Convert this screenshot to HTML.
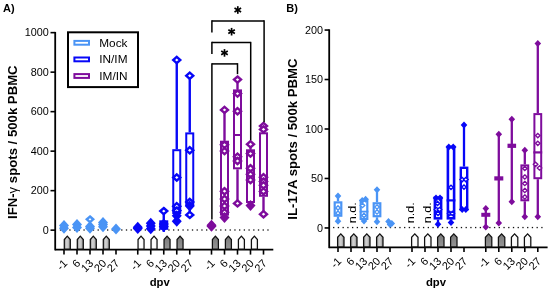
<!DOCTYPE html>
<html><head><meta charset="utf-8"><style>
html,body{margin:0;padding:0;background:#fff;width:550px;height:293px;overflow:hidden;font-family:"Liberation Sans",sans-serif;}
svg{display:block;filter:blur(0.3px);}
</style></head><body>
<svg width="550" height="293" viewBox="0 0 550 293" font-family="Liberation Sans, sans-serif"><defs>
<linearGradient id="gm" x1="0" y1="0" x2="1" y2="0"><stop offset="0" stop-color="#929292"/><stop offset="0.38" stop-color="#d2d2d2"/><stop offset="0.65" stop-color="#c4c4c4"/><stop offset="1" stop-color="#828282"/></linearGradient>
<linearGradient id="gg" x1="0" y1="0" x2="0" y2="1"><stop offset="0" stop-color="#7a7a7a"/><stop offset="1" stop-color="#959595"/></linearGradient>
<linearGradient id="gw" x1="0" y1="0" x2="1" y2="0"><stop offset="0" stop-color="#f4f4f4"/><stop offset="0.5" stop-color="#ffffff"/><stop offset="1" stop-color="#f0f0f0"/></linearGradient>
</defs><line x1="55.2" y1="31.9" x2="55.2" y2="250.4" stroke="#000" stroke-width="1.8" />
<line x1="55.2" y1="249.65" x2="273.3" y2="249.65" stroke="#000" stroke-width="1.7" />
<line x1="50.5" y1="230.15" x2="55.2" y2="230.15" stroke="#000" stroke-width="1.6" />
<text x="48.7" y="233.8" font-size="10.8" text-anchor="end" font-weight="normal" >0</text>
<line x1="50.5" y1="190.65" x2="55.2" y2="190.65" stroke="#000" stroke-width="1.6" />
<text x="48.7" y="194.3" font-size="10.8" text-anchor="end" font-weight="normal" >200</text>
<line x1="50.5" y1="151.15" x2="55.2" y2="151.15" stroke="#000" stroke-width="1.6" />
<text x="48.7" y="154.8" font-size="10.8" text-anchor="end" font-weight="normal" >400</text>
<line x1="50.5" y1="111.65" x2="55.2" y2="111.65" stroke="#000" stroke-width="1.6" />
<text x="48.7" y="115.3" font-size="10.8" text-anchor="end" font-weight="normal" >600</text>
<line x1="50.5" y1="72.15" x2="55.2" y2="72.15" stroke="#000" stroke-width="1.6" />
<text x="48.7" y="75.8" font-size="10.8" text-anchor="end" font-weight="normal" >800</text>
<line x1="50.5" y1="32.65" x2="55.2" y2="32.65" stroke="#000" stroke-width="1.6" />
<text x="48.7" y="36.3" font-size="10.8" text-anchor="end" font-weight="normal" >1000</text>
<line x1="64" y1="249.65" x2="64" y2="254.6" stroke="#000" stroke-width="1.6" />
<line x1="77" y1="249.65" x2="77" y2="254.6" stroke="#000" stroke-width="1.6" />
<line x1="90" y1="249.65" x2="90" y2="254.6" stroke="#000" stroke-width="1.6" />
<line x1="103" y1="249.65" x2="103" y2="254.6" stroke="#000" stroke-width="1.6" />
<line x1="116" y1="249.65" x2="116" y2="254.6" stroke="#000" stroke-width="1.6" />
<line x1="137.75" y1="249.65" x2="137.75" y2="254.6" stroke="#000" stroke-width="1.6" />
<line x1="150.75" y1="249.65" x2="150.75" y2="254.6" stroke="#000" stroke-width="1.6" />
<line x1="163.75" y1="249.65" x2="163.75" y2="254.6" stroke="#000" stroke-width="1.6" />
<line x1="176.75" y1="249.65" x2="176.75" y2="254.6" stroke="#000" stroke-width="1.6" />
<line x1="189.75" y1="249.65" x2="189.75" y2="254.6" stroke="#000" stroke-width="1.6" />
<line x1="211.5" y1="249.65" x2="211.5" y2="254.6" stroke="#000" stroke-width="1.6" />
<line x1="224.5" y1="249.65" x2="224.5" y2="254.6" stroke="#000" stroke-width="1.6" />
<line x1="237.5" y1="249.65" x2="237.5" y2="254.6" stroke="#000" stroke-width="1.6" />
<line x1="250.5" y1="249.65" x2="250.5" y2="254.6" stroke="#000" stroke-width="1.6" />
<line x1="263.5" y1="249.65" x2="263.5" y2="254.6" stroke="#000" stroke-width="1.6" />
<rect x="59.85" y="229.35" width="1.30" height="1.30" fill="#111" stroke="none" stroke-width="0"/>
<rect x="64.56" y="229.35" width="1.30" height="1.30" fill="#111" stroke="none" stroke-width="0"/>
<rect x="69.28" y="229.35" width="1.30" height="1.30" fill="#111" stroke="none" stroke-width="0"/>
<rect x="73.99" y="229.35" width="1.30" height="1.30" fill="#111" stroke="none" stroke-width="0"/>
<rect x="78.71" y="229.35" width="1.30" height="1.30" fill="#111" stroke="none" stroke-width="0"/>
<rect x="83.42" y="229.35" width="1.30" height="1.30" fill="#111" stroke="none" stroke-width="0"/>
<rect x="88.14" y="229.35" width="1.30" height="1.30" fill="#111" stroke="none" stroke-width="0"/>
<rect x="92.85" y="229.35" width="1.30" height="1.30" fill="#111" stroke="none" stroke-width="0"/>
<rect x="97.57" y="229.35" width="1.30" height="1.30" fill="#111" stroke="none" stroke-width="0"/>
<rect x="102.28" y="229.35" width="1.30" height="1.30" fill="#111" stroke="none" stroke-width="0"/>
<rect x="107.00" y="229.35" width="1.30" height="1.30" fill="#111" stroke="none" stroke-width="0"/>
<rect x="111.71" y="229.35" width="1.30" height="1.30" fill="#111" stroke="none" stroke-width="0"/>
<rect x="116.43" y="229.35" width="1.30" height="1.30" fill="#111" stroke="none" stroke-width="0"/>
<rect x="121.14" y="229.35" width="1.30" height="1.30" fill="#111" stroke="none" stroke-width="0"/>
<rect x="125.86" y="229.35" width="1.30" height="1.30" fill="#111" stroke="none" stroke-width="0"/>
<rect x="130.57" y="229.35" width="1.30" height="1.30" fill="#111" stroke="none" stroke-width="0"/>
<rect x="135.29" y="229.35" width="1.30" height="1.30" fill="#111" stroke="none" stroke-width="0"/>
<rect x="140.00" y="229.35" width="1.30" height="1.30" fill="#111" stroke="none" stroke-width="0"/>
<rect x="144.72" y="229.35" width="1.30" height="1.30" fill="#111" stroke="none" stroke-width="0"/>
<rect x="149.43" y="229.35" width="1.30" height="1.30" fill="#111" stroke="none" stroke-width="0"/>
<rect x="154.15" y="229.35" width="1.30" height="1.30" fill="#111" stroke="none" stroke-width="0"/>
<rect x="158.86" y="229.35" width="1.30" height="1.30" fill="#111" stroke="none" stroke-width="0"/>
<rect x="163.58" y="229.35" width="1.30" height="1.30" fill="#111" stroke="none" stroke-width="0"/>
<rect x="168.29" y="229.35" width="1.30" height="1.30" fill="#111" stroke="none" stroke-width="0"/>
<rect x="173.01" y="229.35" width="1.30" height="1.30" fill="#111" stroke="none" stroke-width="0"/>
<rect x="177.72" y="229.35" width="1.30" height="1.30" fill="#111" stroke="none" stroke-width="0"/>
<rect x="182.44" y="229.35" width="1.30" height="1.30" fill="#111" stroke="none" stroke-width="0"/>
<rect x="187.16" y="229.35" width="1.30" height="1.30" fill="#111" stroke="none" stroke-width="0"/>
<rect x="191.87" y="229.35" width="1.30" height="1.30" fill="#111" stroke="none" stroke-width="0"/>
<rect x="196.58" y="229.35" width="1.30" height="1.30" fill="#111" stroke="none" stroke-width="0"/>
<rect x="201.30" y="229.35" width="1.30" height="1.30" fill="#111" stroke="none" stroke-width="0"/>
<rect x="206.01" y="229.35" width="1.30" height="1.30" fill="#111" stroke="none" stroke-width="0"/>
<rect x="210.73" y="229.35" width="1.30" height="1.30" fill="#111" stroke="none" stroke-width="0"/>
<rect x="215.44" y="229.35" width="1.30" height="1.30" fill="#111" stroke="none" stroke-width="0"/>
<rect x="220.16" y="229.35" width="1.30" height="1.30" fill="#111" stroke="none" stroke-width="0"/>
<rect x="224.88" y="229.35" width="1.30" height="1.30" fill="#111" stroke="none" stroke-width="0"/>
<rect x="229.59" y="229.35" width="1.30" height="1.30" fill="#111" stroke="none" stroke-width="0"/>
<rect x="234.30" y="229.35" width="1.30" height="1.30" fill="#111" stroke="none" stroke-width="0"/>
<rect x="239.02" y="229.35" width="1.30" height="1.30" fill="#111" stroke="none" stroke-width="0"/>
<rect x="243.73" y="229.35" width="1.30" height="1.30" fill="#111" stroke="none" stroke-width="0"/>
<rect x="248.45" y="229.35" width="1.30" height="1.30" fill="#111" stroke="none" stroke-width="0"/>
<rect x="253.16" y="229.35" width="1.30" height="1.30" fill="#111" stroke="none" stroke-width="0"/>
<rect x="257.88" y="229.35" width="1.30" height="1.30" fill="#111" stroke="none" stroke-width="0"/>
<rect x="262.60" y="229.35" width="1.30" height="1.30" fill="#111" stroke="none" stroke-width="0"/>
<rect x="267.31" y="229.35" width="1.30" height="1.30" fill="#111" stroke="none" stroke-width="0"/>
<polygon points="64.30,249.05 64.30,239.60 67.30,236.10 70.30,239.60 70.30,249.05" fill="url(#gm)" stroke="#111" stroke-width="1.25" stroke-linejoin="miter"/>
<polygon points="77.30,249.05 77.30,239.60 80.30,236.10 83.30,239.60 83.30,249.05" fill="url(#gm)" stroke="#111" stroke-width="1.25" stroke-linejoin="miter"/>
<polygon points="90.30,249.05 90.30,239.60 93.30,236.10 96.30,239.60 96.30,249.05" fill="url(#gm)" stroke="#111" stroke-width="1.25" stroke-linejoin="miter"/>
<polygon points="103.30,249.05 103.30,239.60 106.30,236.10 109.30,239.60 109.30,249.05" fill="url(#gm)" stroke="#111" stroke-width="1.25" stroke-linejoin="miter"/>
<polygon points="138.05,249.05 138.05,239.60 141.05,236.10 144.05,239.60 144.05,249.05" fill="url(#gw)" stroke="#111" stroke-width="1.25" stroke-linejoin="miter"/>
<polygon points="151.05,249.05 151.05,239.60 154.05,236.10 157.05,239.60 157.05,249.05" fill="url(#gw)" stroke="#111" stroke-width="1.25" stroke-linejoin="miter"/>
<polygon points="164.05,249.05 164.05,239.60 167.05,236.10 170.05,239.60 170.05,249.05" fill="url(#gg)" stroke="#111" stroke-width="1.25" stroke-linejoin="miter"/>
<polygon points="177.05,249.05 177.05,239.60 180.05,236.10 183.05,239.60 183.05,249.05" fill="url(#gg)" stroke="#111" stroke-width="1.25" stroke-linejoin="miter"/>
<polygon points="212.40,249.05 212.40,239.60 215.40,236.10 218.40,239.60 218.40,249.05" fill="url(#gg)" stroke="#111" stroke-width="1.25" stroke-linejoin="miter"/>
<polygon points="225.40,249.05 225.40,239.60 228.40,236.10 231.40,239.60 231.40,249.05" fill="url(#gg)" stroke="#111" stroke-width="1.25" stroke-linejoin="miter"/>
<polygon points="238.40,249.05 238.40,239.60 241.40,236.10 244.40,239.60 244.40,249.05" fill="url(#gw)" stroke="#111" stroke-width="1.25" stroke-linejoin="miter"/>
<polygon points="251.40,249.05 251.40,239.60 254.40,236.10 257.40,239.60 257.40,249.05" fill="url(#gw)" stroke="#111" stroke-width="1.25" stroke-linejoin="miter"/>
<text x="68.1" y="264.0" font-size="11" text-anchor="end" font-weight="normal" transform="rotate(-45 68.1 264.0)">-1</text>
<text x="81.1" y="264.0" font-size="11" text-anchor="end" font-weight="normal" transform="rotate(-45 81.1 264.0)">6</text>
<text x="94.1" y="264.0" font-size="11" text-anchor="end" font-weight="normal" transform="rotate(-45 94.1 264.0)">13</text>
<text x="107.1" y="264.0" font-size="11" text-anchor="end" font-weight="normal" transform="rotate(-45 107.1 264.0)">20</text>
<text x="120.1" y="264.0" font-size="11" text-anchor="end" font-weight="normal" transform="rotate(-45 120.1 264.0)">27</text>
<text x="141.85" y="264.0" font-size="11" text-anchor="end" font-weight="normal" transform="rotate(-45 141.85 264.0)">-1</text>
<text x="154.85" y="264.0" font-size="11" text-anchor="end" font-weight="normal" transform="rotate(-45 154.85 264.0)">6</text>
<text x="167.85" y="264.0" font-size="11" text-anchor="end" font-weight="normal" transform="rotate(-45 167.85 264.0)">13</text>
<text x="180.85" y="264.0" font-size="11" text-anchor="end" font-weight="normal" transform="rotate(-45 180.85 264.0)">20</text>
<text x="193.85" y="264.0" font-size="11" text-anchor="end" font-weight="normal" transform="rotate(-45 193.85 264.0)">27</text>
<text x="215.6" y="264.0" font-size="11" text-anchor="end" font-weight="normal" transform="rotate(-45 215.6 264.0)">-1</text>
<text x="228.6" y="264.0" font-size="11" text-anchor="end" font-weight="normal" transform="rotate(-45 228.6 264.0)">6</text>
<text x="241.6" y="264.0" font-size="11" text-anchor="end" font-weight="normal" transform="rotate(-45 241.6 264.0)">13</text>
<text x="254.6" y="264.0" font-size="11" text-anchor="end" font-weight="normal" transform="rotate(-45 254.6 264.0)">20</text>
<text x="267.6" y="264.0" font-size="11" text-anchor="end" font-weight="normal" transform="rotate(-45 267.6 264.0)">27</text>
<text x="159.7" y="286" font-size="11.3" text-anchor="middle" font-weight="bold" >dpv</text>
<text x="0" y="0" font-size="13" font-weight="bold" text-anchor="middle" textLength="153.6" lengthAdjust="spacingAndGlyphs" transform="translate(17.1 142.2) rotate(-90)">IFN-<tspan font-weight="normal">γ</tspan> spots / 500k PBMC</text>
<text x="3" y="12.3" font-size="11" text-anchor="start" font-weight="bold" >A)</text>
<rect x="68.00" y="32.30" width="70.00" height="54.80" fill="#fff" stroke="#000" stroke-width="2"/>
<rect x="74.40" y="40.90" width="14.60" height="3.80" fill="#fff" stroke="#4a94f5" stroke-width="2"/>
<text x="99.3" y="46.7" font-size="11.8" text-anchor="start" font-weight="normal" >Mock</text>
<rect x="74.40" y="57.50" width="14.60" height="3.80" fill="#fff" stroke="#0707f7" stroke-width="2"/>
<text x="99.3" y="63.3" font-size="11.8" text-anchor="start" font-weight="normal" >IN/IM</text>
<rect x="74.40" y="74.10" width="14.60" height="3.80" fill="#fff" stroke="#7e0c9c" stroke-width="2"/>
<text x="99.3" y="79.9" font-size="11.8" text-anchor="start" font-weight="normal" >IM/IN</text>
<polygon points="64.00,220.00 69.00,225.50 64.00,231.00 59.00,225.50" fill="#4a94f5" stroke="none" stroke-width="0" />
<polygon points="64.00,222.80 69.00,228.30 64.00,233.80 59.00,228.30" fill="#4a94f5" stroke="none" stroke-width="0" />
<polygon points="77.00,219.00 82.00,224.50 77.00,230.00 72.00,224.50" fill="#4a94f5" stroke="none" stroke-width="0" />
<polygon points="77.00,222.00 82.00,227.50 77.00,233.00 72.00,227.50" fill="#4a94f5" stroke="none" stroke-width="0" />
<polygon points="90.00,216.50 93.20,219.30 90.00,222.10 86.80,219.30" fill="#fff" stroke="#4a94f5" stroke-width="2.4" stroke-linejoin="miter"/>
<polygon points="90.00,221.00 95.00,226.50 90.00,232.00 85.00,226.50" fill="#4a94f5" stroke="none" stroke-width="0" />
<polygon points="90.00,222.70 95.00,228.20 90.00,233.70 85.00,228.20" fill="#4a94f5" stroke="none" stroke-width="0" />
<polygon points="103.00,217.00 108.00,222.50 103.00,228.00 98.00,222.50" fill="#4a94f5" stroke="none" stroke-width="0" />
<polygon points="103.00,219.00 108.00,224.50 103.00,230.00 98.00,224.50" fill="#4a94f5" stroke="none" stroke-width="0" />
<polygon points="103.00,221.30 108.00,226.80 103.00,232.30 98.00,226.80" fill="#4a94f5" stroke="none" stroke-width="0" />
<polygon points="116.00,223.50 121.00,229.00 116.00,234.50 111.00,229.00" fill="#4a94f5" stroke="none" stroke-width="0" />
<polygon points="137.75,221.70 142.75,227.20 137.75,232.70 132.75,227.20" fill="#0707f7" stroke="none" stroke-width="0" />
<polygon points="137.75,222.90 142.75,228.40 137.75,233.90 132.75,228.40" fill="#0707f7" stroke="none" stroke-width="0" />
<polygon points="150.75,217.80 155.75,223.30 150.75,228.80 145.75,223.30" fill="#0707f7" stroke="none" stroke-width="0" />
<polygon points="150.75,220.50 155.75,226.00 150.75,231.50 145.75,226.00" fill="#0707f7" stroke="none" stroke-width="0" />
<polygon points="150.75,223.30 155.75,228.80 150.75,234.30 145.75,228.80" fill="#0707f7" stroke="none" stroke-width="0" />
<line x1="163.75" y1="211.1" x2="163.75" y2="220.3" stroke="#0707f7" stroke-width="2.4" />
<line x1="163.75" y1="229.8" x2="163.75" y2="231.9" stroke="#0707f7" stroke-width="2.4" />
<rect x="160.25" y="221.30" width="7.00" height="7.50" fill="#fff" stroke="#0707f7" stroke-width="2"/>
<polygon points="163.75,208.00 167.25,211.10 163.75,214.20 160.25,211.10" fill="#fff" stroke="#0707f7" stroke-width="2.4" stroke-linejoin="miter"/>
<polygon points="163.75,218.50 168.75,224.00 163.75,229.50 158.75,224.00" fill="#0707f7" stroke="none" stroke-width="0" />
<polygon points="163.75,221.00 168.75,226.50 163.75,232.00 158.75,226.50" fill="#0707f7" stroke="none" stroke-width="0" />
<line x1="176.75" y1="60" x2="176.75" y2="149.2" stroke="#0707f7" stroke-width="2.4" />
<line x1="176.75" y1="214" x2="176.75" y2="221.5" stroke="#0707f7" stroke-width="2.4" />
<rect x="173.25" y="150.20" width="7.00" height="62.80" fill="#fff" stroke="#0707f7" stroke-width="2"/>
<polygon points="176.75,56.90 180.25,60.00 176.75,63.10 173.25,60.00" fill="#fff" stroke="#0707f7" stroke-width="2.4" stroke-linejoin="miter"/>
<polygon points="176.75,174.40 180.25,177.50 176.75,180.60 173.25,177.50" fill="#fff" stroke="#0707f7" stroke-width="2.4" stroke-linejoin="miter"/>
<polygon points="176.75,203.20 180.25,206.30 176.75,209.40 173.25,206.30" fill="#fff" stroke="#0707f7" stroke-width="2.4" stroke-linejoin="miter"/>
<polygon points="176.75,207.50 180.25,210.60 176.75,213.70 173.25,210.60" fill="#fff" stroke="#0707f7" stroke-width="2.4" stroke-linejoin="miter"/>
<polygon points="176.75,210.20 181.75,215.70 176.75,221.20 171.75,215.70" fill="#0707f7" stroke="none" stroke-width="0" />
<polygon points="176.75,215.80 181.75,221.30 176.75,226.80 171.75,221.30" fill="#0707f7" stroke="none" stroke-width="0" />
<line x1="189.75" y1="75.7" x2="189.75" y2="132.4" stroke="#0707f7" stroke-width="2.4" />
<line x1="189.75" y1="206" x2="189.75" y2="214.9" stroke="#0707f7" stroke-width="2.4" />
<rect x="186.25" y="133.40" width="7.00" height="71.60" fill="#fff" stroke="#0707f7" stroke-width="2"/>
<polygon points="189.75,72.60 193.25,75.70 189.75,78.80 186.25,75.70" fill="#fff" stroke="#0707f7" stroke-width="2.4" stroke-linejoin="miter"/>
<polygon points="189.75,147.20 193.25,150.30 189.75,153.40 186.25,150.30" fill="#fff" stroke="#0707f7" stroke-width="2.4" stroke-linejoin="miter"/>
<polygon points="189.75,198.90 193.25,202.00 189.75,205.10 186.25,202.00" fill="#fff" stroke="#0707f7" stroke-width="2.4" stroke-linejoin="miter"/>
<polygon points="189.75,200.50 194.75,206.00 189.75,211.50 184.75,206.00" fill="#0707f7" stroke="none" stroke-width="0" />
<polygon points="189.75,211.80 193.25,214.90 189.75,218.00 186.25,214.90" fill="#fff" stroke="#0707f7" stroke-width="2.4" stroke-linejoin="miter"/>
<polygon points="211.50,219.70 216.50,225.20 211.50,230.70 206.50,225.20" fill="#7e0c9c" stroke="none" stroke-width="0" />
<polygon points="211.50,220.70 216.50,226.20 211.50,231.70 206.50,226.20" fill="#7e0c9c" stroke="none" stroke-width="0" />
<line x1="224.5" y1="109.9" x2="224.5" y2="140.7" stroke="#7e0c9c" stroke-width="2.4" />
<line x1="224.5" y1="215.6" x2="224.5" y2="217.5" stroke="#7e0c9c" stroke-width="2.4" />
<rect x="221.00" y="141.70" width="7.00" height="72.90" fill="#fff" stroke="#7e0c9c" stroke-width="2"/>
<polygon points="224.50,106.80 228.00,109.90 224.50,113.00 221.00,109.90" fill="#fff" stroke="#7e0c9c" stroke-width="2.4" stroke-linejoin="miter"/>
<polygon points="224.50,141.70 228.00,144.80 224.50,147.90 221.00,144.80" fill="#fff" stroke="#7e0c9c" stroke-width="2.4" stroke-linejoin="miter"/>
<polygon points="224.50,148.00 228.00,151.10 224.50,154.20 221.00,151.10" fill="#fff" stroke="#7e0c9c" stroke-width="2.4" stroke-linejoin="miter"/>
<polygon points="224.50,188.10 228.00,191.20 224.50,194.30 221.00,191.20" fill="#fff" stroke="#7e0c9c" stroke-width="2.4" stroke-linejoin="miter"/>
<polygon points="224.50,195.90 228.00,199.00 224.50,202.10 221.00,199.00" fill="#fff" stroke="#7e0c9c" stroke-width="2.4" stroke-linejoin="miter"/>
<polygon points="224.50,202.90 228.00,206.00 224.50,209.10 221.00,206.00" fill="#fff" stroke="#7e0c9c" stroke-width="2.4" stroke-linejoin="miter"/>
<polygon points="224.50,209.20 228.00,212.30 224.50,215.40 221.00,212.30" fill="#fff" stroke="#7e0c9c" stroke-width="2.4" stroke-linejoin="miter"/>
<polygon points="224.50,212.00 229.50,217.50 224.50,223.00 219.50,217.50" fill="#7e0c9c" stroke="none" stroke-width="0" />
<line x1="237.5" y1="79.6" x2="237.5" y2="89.4" stroke="#7e0c9c" stroke-width="2.4" />
<line x1="237.5" y1="169.3" x2="237.5" y2="203.4" stroke="#7e0c9c" stroke-width="2.4" />
<rect x="234.00" y="90.40" width="7.00" height="77.90" fill="#fff" stroke="#7e0c9c" stroke-width="2"/>
<line x1="233" y1="135" x2="242" y2="135" stroke="#7e0c9c" stroke-width="2" />
<polygon points="237.50,76.50 241.00,79.60 237.50,82.70 234.00,79.60" fill="#fff" stroke="#7e0c9c" stroke-width="2.4" stroke-linejoin="miter"/>
<polygon points="237.50,90.50 241.00,93.60 237.50,96.70 234.00,93.60" fill="#fff" stroke="#7e0c9c" stroke-width="2.4" stroke-linejoin="miter"/>
<polygon points="237.50,108.10 241.00,111.20 237.50,114.30 234.00,111.20" fill="#fff" stroke="#7e0c9c" stroke-width="2.4" stroke-linejoin="miter"/>
<polygon points="237.50,153.60 241.00,156.70 237.50,159.80 234.00,156.70" fill="#fff" stroke="#7e0c9c" stroke-width="2.4" stroke-linejoin="miter"/>
<polygon points="237.50,157.90 241.00,161.00 237.50,164.10 234.00,161.00" fill="#fff" stroke="#7e0c9c" stroke-width="2.4" stroke-linejoin="miter"/>
<polygon points="237.50,200.30 241.00,203.40 237.50,206.50 234.00,203.40" fill="#fff" stroke="#7e0c9c" stroke-width="2.4" stroke-linejoin="miter"/>
<line x1="250.5" y1="144.3" x2="250.5" y2="149.3" stroke="#7e0c9c" stroke-width="2.4" />
<line x1="250.5" y1="203" x2="250.5" y2="205.5" stroke="#7e0c9c" stroke-width="2.4" />
<rect x="247.00" y="150.30" width="7.00" height="51.70" fill="#fff" stroke="#7e0c9c" stroke-width="2"/>
<polygon points="250.50,141.20 254.00,144.30 250.50,147.40 247.00,144.30" fill="#fff" stroke="#7e0c9c" stroke-width="2.4" stroke-linejoin="miter"/>
<polygon points="250.50,150.50 254.00,153.60 250.50,156.70 247.00,153.60" fill="#fff" stroke="#7e0c9c" stroke-width="2.4" stroke-linejoin="miter"/>
<polygon points="250.50,165.20 254.00,168.30 250.50,171.40 247.00,168.30" fill="#fff" stroke="#7e0c9c" stroke-width="2.4" stroke-linejoin="miter"/>
<polygon points="250.50,171.20 254.00,174.30 250.50,177.40 247.00,174.30" fill="#fff" stroke="#7e0c9c" stroke-width="2.4" stroke-linejoin="miter"/>
<polygon points="250.50,176.90 254.00,180.00 250.50,183.10 247.00,180.00" fill="#fff" stroke="#7e0c9c" stroke-width="2.4" stroke-linejoin="miter"/>
<polygon points="250.50,200.00 255.50,205.50 250.50,211.00 245.50,205.50" fill="#7e0c9c" stroke="none" stroke-width="0" />
<line x1="263.5" y1="126" x2="263.5" y2="132.3" stroke="#7e0c9c" stroke-width="2.4" />
<line x1="263.5" y1="196.8" x2="263.5" y2="214.2" stroke="#7e0c9c" stroke-width="2.4" />
<rect x="260.00" y="133.30" width="7.00" height="62.50" fill="#fff" stroke="#7e0c9c" stroke-width="2"/>
<polygon points="263.50,122.90 267.00,126.00 263.50,129.10 260.00,126.00" fill="#fff" stroke="#7e0c9c" stroke-width="2.4" stroke-linejoin="miter"/>
<polygon points="263.50,126.30 267.00,129.40 263.50,132.50 260.00,129.40" fill="#fff" stroke="#7e0c9c" stroke-width="2.4" stroke-linejoin="miter"/>
<polygon points="263.50,174.20 267.00,177.30 263.50,180.40 260.00,177.30" fill="#fff" stroke="#7e0c9c" stroke-width="2.4" stroke-linejoin="miter"/>
<polygon points="263.50,178.50 267.00,181.60 263.50,184.70 260.00,181.60" fill="#fff" stroke="#7e0c9c" stroke-width="2.4" stroke-linejoin="miter"/>
<polygon points="263.50,182.20 267.00,185.30 263.50,188.40 260.00,185.30" fill="#fff" stroke="#7e0c9c" stroke-width="2.4" stroke-linejoin="miter"/>
<polygon points="263.50,188.30 267.00,191.40 263.50,194.50 260.00,191.40" fill="#fff" stroke="#7e0c9c" stroke-width="2.4" stroke-linejoin="miter"/>
<polygon points="263.50,211.10 267.00,214.20 263.50,217.30 260.00,214.20" fill="#fff" stroke="#7e0c9c" stroke-width="2.4" stroke-linejoin="miter"/>
<line x1="211.9" y1="20.9" x2="264.1" y2="20.9" stroke="#000" stroke-width="1.5" />
<line x1="211.9" y1="20.15" x2="211.9" y2="32.6" stroke="#000" stroke-width="1.5" />
<line x1="264.1" y1="20.15" x2="264.1" y2="122.3" stroke="#000" stroke-width="1.5" />
<line x1="211.9" y1="42.6" x2="250.7" y2="42.6" stroke="#000" stroke-width="1.5" />
<line x1="211.9" y1="41.85" x2="211.9" y2="53.9" stroke="#000" stroke-width="1.5" />
<line x1="250.7" y1="41.85" x2="250.7" y2="140.2" stroke="#000" stroke-width="1.5" />
<line x1="211.9" y1="63.9" x2="237.5" y2="63.9" stroke="#000" stroke-width="1.5" />
<line x1="211.9" y1="63.15" x2="211.9" y2="219.5" stroke="#000" stroke-width="1.5" />
<line x1="237.5" y1="63.15" x2="237.5" y2="74.2" stroke="#000" stroke-width="1.5" />
<line x1="237.8" y1="6.2" x2="237.8" y2="13.8" stroke="#000" stroke-width="1.7" stroke-linecap="butt"/>
<line x1="234.51" y1="8.1" x2="241.09" y2="11.9" stroke="#000" stroke-width="1.7" stroke-linecap="butt"/>
<line x1="241.09" y1="8.1" x2="234.51" y2="11.9" stroke="#000" stroke-width="1.7" stroke-linecap="butt"/>
<line x1="231.6" y1="27.9" x2="231.6" y2="35.5" stroke="#000" stroke-width="1.7" stroke-linecap="butt"/>
<line x1="228.31" y1="29.8" x2="234.89" y2="33.6" stroke="#000" stroke-width="1.7" stroke-linecap="butt"/>
<line x1="234.89" y1="29.8" x2="228.31" y2="33.6" stroke="#000" stroke-width="1.7" stroke-linecap="butt"/>
<line x1="224.5" y1="49.1" x2="224.5" y2="56.7" stroke="#000" stroke-width="1.7" stroke-linecap="butt"/>
<line x1="221.21" y1="51" x2="227.79" y2="54.8" stroke="#000" stroke-width="1.7" stroke-linecap="butt"/>
<line x1="227.79" y1="51" x2="221.21" y2="54.8" stroke="#000" stroke-width="1.7" stroke-linecap="butt"/>
<line x1="329.2" y1="29.3" x2="329.2" y2="248.15" stroke="#000" stroke-width="1.8" />
<line x1="329.2" y1="247.4" x2="547.6" y2="247.4" stroke="#000" stroke-width="1.7" />
<line x1="324.6" y1="227.95" x2="329.2" y2="227.95" stroke="#000" stroke-width="1.6" />
<text x="323.0" y="231.75" font-size="10.8" text-anchor="end" font-weight="normal" >0</text>
<line x1="324.6" y1="178.47" x2="329.2" y2="178.47" stroke="#000" stroke-width="1.6" />
<text x="323.0" y="182.28" font-size="10.8" text-anchor="end" font-weight="normal" >50</text>
<line x1="324.6" y1="129" x2="329.2" y2="129" stroke="#000" stroke-width="1.6" />
<text x="323.0" y="132.8" font-size="10.8" text-anchor="end" font-weight="normal" >100</text>
<line x1="324.6" y1="79.52" x2="329.2" y2="79.52" stroke="#000" stroke-width="1.6" />
<text x="323.0" y="83.32" font-size="10.8" text-anchor="end" font-weight="normal" >150</text>
<line x1="324.6" y1="30.05" x2="329.2" y2="30.05" stroke="#000" stroke-width="1.6" />
<text x="323.0" y="33.85" font-size="10.8" text-anchor="end" font-weight="normal" >200</text>
<line x1="338" y1="247.4" x2="338" y2="252" stroke="#000" stroke-width="1.6" />
<line x1="351" y1="247.4" x2="351" y2="252" stroke="#000" stroke-width="1.6" />
<line x1="364" y1="247.4" x2="364" y2="252" stroke="#000" stroke-width="1.6" />
<line x1="377" y1="247.4" x2="377" y2="252" stroke="#000" stroke-width="1.6" />
<line x1="390" y1="247.4" x2="390" y2="252" stroke="#000" stroke-width="1.6" />
<line x1="412" y1="247.4" x2="412" y2="252" stroke="#000" stroke-width="1.6" />
<line x1="425" y1="247.4" x2="425" y2="252" stroke="#000" stroke-width="1.6" />
<line x1="438" y1="247.4" x2="438" y2="252" stroke="#000" stroke-width="1.6" />
<line x1="451" y1="247.4" x2="451" y2="252" stroke="#000" stroke-width="1.6" />
<line x1="464" y1="247.4" x2="464" y2="252" stroke="#000" stroke-width="1.6" />
<line x1="485.8" y1="247.4" x2="485.8" y2="252" stroke="#000" stroke-width="1.6" />
<line x1="498.8" y1="247.4" x2="498.8" y2="252" stroke="#000" stroke-width="1.6" />
<line x1="511.8" y1="247.4" x2="511.8" y2="252" stroke="#000" stroke-width="1.6" />
<line x1="524.8" y1="247.4" x2="524.8" y2="252" stroke="#000" stroke-width="1.6" />
<line x1="537.8" y1="247.4" x2="537.8" y2="252" stroke="#000" stroke-width="1.6" />
<rect x="333.05" y="226.90" width="1.30" height="1.30" fill="#111" stroke="none" stroke-width="0"/>
<rect x="337.78" y="226.90" width="1.30" height="1.30" fill="#111" stroke="none" stroke-width="0"/>
<rect x="342.51" y="226.90" width="1.30" height="1.30" fill="#111" stroke="none" stroke-width="0"/>
<rect x="347.25" y="226.90" width="1.30" height="1.30" fill="#111" stroke="none" stroke-width="0"/>
<rect x="351.98" y="226.90" width="1.30" height="1.30" fill="#111" stroke="none" stroke-width="0"/>
<rect x="356.71" y="226.90" width="1.30" height="1.30" fill="#111" stroke="none" stroke-width="0"/>
<rect x="361.44" y="226.90" width="1.30" height="1.30" fill="#111" stroke="none" stroke-width="0"/>
<rect x="366.17" y="226.90" width="1.30" height="1.30" fill="#111" stroke="none" stroke-width="0"/>
<rect x="370.91" y="226.90" width="1.30" height="1.30" fill="#111" stroke="none" stroke-width="0"/>
<rect x="375.64" y="226.90" width="1.30" height="1.30" fill="#111" stroke="none" stroke-width="0"/>
<rect x="380.37" y="226.90" width="1.30" height="1.30" fill="#111" stroke="none" stroke-width="0"/>
<rect x="385.10" y="226.90" width="1.30" height="1.30" fill="#111" stroke="none" stroke-width="0"/>
<rect x="389.83" y="226.90" width="1.30" height="1.30" fill="#111" stroke="none" stroke-width="0"/>
<rect x="394.57" y="226.90" width="1.30" height="1.30" fill="#111" stroke="none" stroke-width="0"/>
<rect x="399.30" y="226.90" width="1.30" height="1.30" fill="#111" stroke="none" stroke-width="0"/>
<rect x="404.03" y="226.90" width="1.30" height="1.30" fill="#111" stroke="none" stroke-width="0"/>
<rect x="408.76" y="226.90" width="1.30" height="1.30" fill="#111" stroke="none" stroke-width="0"/>
<rect x="413.49" y="226.90" width="1.30" height="1.30" fill="#111" stroke="none" stroke-width="0"/>
<rect x="418.23" y="226.90" width="1.30" height="1.30" fill="#111" stroke="none" stroke-width="0"/>
<rect x="422.96" y="226.90" width="1.30" height="1.30" fill="#111" stroke="none" stroke-width="0"/>
<rect x="427.69" y="226.90" width="1.30" height="1.30" fill="#111" stroke="none" stroke-width="0"/>
<rect x="432.42" y="226.90" width="1.30" height="1.30" fill="#111" stroke="none" stroke-width="0"/>
<rect x="437.15" y="226.90" width="1.30" height="1.30" fill="#111" stroke="none" stroke-width="0"/>
<rect x="441.89" y="226.90" width="1.30" height="1.30" fill="#111" stroke="none" stroke-width="0"/>
<rect x="446.62" y="226.90" width="1.30" height="1.30" fill="#111" stroke="none" stroke-width="0"/>
<rect x="451.35" y="226.90" width="1.30" height="1.30" fill="#111" stroke="none" stroke-width="0"/>
<rect x="456.08" y="226.90" width="1.30" height="1.30" fill="#111" stroke="none" stroke-width="0"/>
<rect x="460.81" y="226.90" width="1.30" height="1.30" fill="#111" stroke="none" stroke-width="0"/>
<rect x="465.55" y="226.90" width="1.30" height="1.30" fill="#111" stroke="none" stroke-width="0"/>
<rect x="470.28" y="226.90" width="1.30" height="1.30" fill="#111" stroke="none" stroke-width="0"/>
<rect x="475.01" y="226.90" width="1.30" height="1.30" fill="#111" stroke="none" stroke-width="0"/>
<rect x="479.74" y="226.90" width="1.30" height="1.30" fill="#111" stroke="none" stroke-width="0"/>
<rect x="484.47" y="226.90" width="1.30" height="1.30" fill="#111" stroke="none" stroke-width="0"/>
<rect x="489.21" y="226.90" width="1.30" height="1.30" fill="#111" stroke="none" stroke-width="0"/>
<rect x="493.94" y="226.90" width="1.30" height="1.30" fill="#111" stroke="none" stroke-width="0"/>
<rect x="498.67" y="226.90" width="1.30" height="1.30" fill="#111" stroke="none" stroke-width="0"/>
<rect x="503.40" y="226.90" width="1.30" height="1.30" fill="#111" stroke="none" stroke-width="0"/>
<rect x="508.13" y="226.90" width="1.30" height="1.30" fill="#111" stroke="none" stroke-width="0"/>
<rect x="512.87" y="226.90" width="1.30" height="1.30" fill="#111" stroke="none" stroke-width="0"/>
<rect x="517.60" y="226.90" width="1.30" height="1.30" fill="#111" stroke="none" stroke-width="0"/>
<rect x="522.33" y="226.90" width="1.30" height="1.30" fill="#111" stroke="none" stroke-width="0"/>
<rect x="527.06" y="226.90" width="1.30" height="1.30" fill="#111" stroke="none" stroke-width="0"/>
<rect x="531.79" y="226.90" width="1.30" height="1.30" fill="#111" stroke="none" stroke-width="0"/>
<rect x="536.53" y="226.90" width="1.30" height="1.30" fill="#111" stroke="none" stroke-width="0"/>
<rect x="541.26" y="226.90" width="1.30" height="1.30" fill="#111" stroke="none" stroke-width="0"/>
<polygon points="337.60,246.80 337.60,237.30 340.80,233.90 344.00,237.30 344.00,246.80" fill="url(#gm)" stroke="#111" stroke-width="1.25" stroke-linejoin="miter"/>
<polygon points="350.60,246.80 350.60,237.30 353.80,233.90 357.00,237.30 357.00,246.80" fill="url(#gm)" stroke="#111" stroke-width="1.25" stroke-linejoin="miter"/>
<polygon points="363.60,246.80 363.60,237.30 366.80,233.90 370.00,237.30 370.00,246.80" fill="url(#gm)" stroke="#111" stroke-width="1.25" stroke-linejoin="miter"/>
<polygon points="376.60,246.80 376.60,237.30 379.80,233.90 383.00,237.30 383.00,246.80" fill="url(#gm)" stroke="#111" stroke-width="1.25" stroke-linejoin="miter"/>
<polygon points="411.60,246.80 411.60,237.30 414.80,233.90 418.00,237.30 418.00,246.80" fill="url(#gw)" stroke="#111" stroke-width="1.25" stroke-linejoin="miter"/>
<polygon points="424.60,246.80 424.60,237.30 427.80,233.90 431.00,237.30 431.00,246.80" fill="url(#gw)" stroke="#111" stroke-width="1.25" stroke-linejoin="miter"/>
<polygon points="437.60,246.80 437.60,237.30 440.80,233.90 444.00,237.30 444.00,246.80" fill="url(#gg)" stroke="#111" stroke-width="1.25" stroke-linejoin="miter"/>
<polygon points="450.60,246.80 450.60,237.30 453.80,233.90 457.00,237.30 457.00,246.80" fill="url(#gg)" stroke="#111" stroke-width="1.25" stroke-linejoin="miter"/>
<polygon points="485.40,246.80 485.40,237.30 488.60,233.90 491.80,237.30 491.80,246.80" fill="url(#gg)" stroke="#111" stroke-width="1.25" stroke-linejoin="miter"/>
<polygon points="498.40,246.80 498.40,237.30 501.60,233.90 504.80,237.30 504.80,246.80" fill="url(#gg)" stroke="#111" stroke-width="1.25" stroke-linejoin="miter"/>
<polygon points="511.40,246.80 511.40,237.30 514.60,233.90 517.80,237.30 517.80,246.80" fill="url(#gw)" stroke="#111" stroke-width="1.25" stroke-linejoin="miter"/>
<polygon points="524.40,246.80 524.40,237.30 527.60,233.90 530.80,237.30 530.80,246.80" fill="url(#gw)" stroke="#111" stroke-width="1.25" stroke-linejoin="miter"/>
<text x="342.1" y="261.8" font-size="11" text-anchor="end" font-weight="normal" transform="rotate(-45 342.1 261.8)">-1</text>
<text x="355.1" y="261.8" font-size="11" text-anchor="end" font-weight="normal" transform="rotate(-45 355.1 261.8)">6</text>
<text x="368.1" y="261.8" font-size="11" text-anchor="end" font-weight="normal" transform="rotate(-45 368.1 261.8)">13</text>
<text x="381.1" y="261.8" font-size="11" text-anchor="end" font-weight="normal" transform="rotate(-45 381.1 261.8)">20</text>
<text x="394.1" y="261.8" font-size="11" text-anchor="end" font-weight="normal" transform="rotate(-45 394.1 261.8)">27</text>
<text x="416.1" y="261.8" font-size="11" text-anchor="end" font-weight="normal" transform="rotate(-45 416.1 261.8)">-1</text>
<text x="429.1" y="261.8" font-size="11" text-anchor="end" font-weight="normal" transform="rotate(-45 429.1 261.8)">6</text>
<text x="442.1" y="261.8" font-size="11" text-anchor="end" font-weight="normal" transform="rotate(-45 442.1 261.8)">13</text>
<text x="455.1" y="261.8" font-size="11" text-anchor="end" font-weight="normal" transform="rotate(-45 455.1 261.8)">20</text>
<text x="468.1" y="261.8" font-size="11" text-anchor="end" font-weight="normal" transform="rotate(-45 468.1 261.8)">27</text>
<text x="489.9" y="261.8" font-size="11" text-anchor="end" font-weight="normal" transform="rotate(-45 489.90000000000003 261.8)">-1</text>
<text x="502.9" y="261.8" font-size="11" text-anchor="end" font-weight="normal" transform="rotate(-45 502.90000000000003 261.8)">6</text>
<text x="515.9" y="261.8" font-size="11" text-anchor="end" font-weight="normal" transform="rotate(-45 515.9 261.8)">13</text>
<text x="528.9" y="261.8" font-size="11" text-anchor="end" font-weight="normal" transform="rotate(-45 528.9 261.8)">20</text>
<text x="541.9" y="261.8" font-size="11" text-anchor="end" font-weight="normal" transform="rotate(-45 541.9 261.8)">27</text>
<text x="436" y="286" font-size="11.3" text-anchor="middle" font-weight="bold" >dpv</text>
<text x="0" y="0" font-size="13" font-weight="bold" text-anchor="middle" textLength="161.2" lengthAdjust="spacingAndGlyphs" transform="translate(297.1 139.1) rotate(-90)">IL-17A spots / 500k PBMC</text>
<text x="286.2" y="12" font-size="11" text-anchor="start" font-weight="bold" >B)</text>
<text x="0" y="0" font-size="11.6" text-anchor="start" textLength="21" lengthAdjust="spacingAndGlyphs" transform="translate(355.6 223.3) rotate(-90)">n.d.</text>
<text x="0" y="0" font-size="11.6" text-anchor="start" textLength="21" lengthAdjust="spacingAndGlyphs" transform="translate(413.7 223.3) rotate(-90)">n.d.</text>
<text x="0" y="0" font-size="11.6" text-anchor="start" textLength="21" lengthAdjust="spacingAndGlyphs" transform="translate(431.0 223.3) rotate(-90)">n.d.</text>
<line x1="338" y1="196" x2="338" y2="201.3" stroke="#4a94f5" stroke-width="2.3" />
<line x1="338" y1="216.8" x2="338" y2="221.2" stroke="#4a94f5" stroke-width="2.3" />
<rect x="334.70" y="202.40" width="6.60" height="13.30" fill="#fff" stroke="#4a94f5" stroke-width="2.2"/>
<polygon points="338.00,192.50 341.30,196.00 338.00,199.50 334.70,196.00" fill="#4a94f5" stroke="none" stroke-width="0" />
<polygon points="338.00,205.75 340.25,207.90 338.00,210.05 335.75,207.90" fill="#fff" stroke="#4a94f5" stroke-width="1.4" stroke-linejoin="miter"/>
<polygon points="338.00,211.05 340.25,213.20 338.00,215.35 335.75,213.20" fill="#fff" stroke="#4a94f5" stroke-width="1.4" stroke-linejoin="miter"/>
<polygon points="338.00,217.70 341.30,221.20 338.00,224.70 334.70,221.20" fill="#4a94f5" stroke="none" stroke-width="0" />
<rect x="360.70" y="200.60" width="6.60" height="18.30" fill="#fff" stroke="#4a94f5" stroke-width="2.2"/>
<rect x="359.60" y="210.70" width="8.80" height="1.80" fill="#4a94f5" stroke="none" stroke-width="0"/>
<polygon points="365.60,195.70 368.90,199.20 365.60,202.70 362.30,199.20" fill="#4a94f5" stroke="none" stroke-width="0" />
<polygon points="362.20,197.10 365.50,200.60 362.20,204.10 358.90,200.60" fill="#4a94f5" stroke="none" stroke-width="0" />
<polygon points="362.50,203.35 364.75,205.50 362.50,207.65 360.25,205.50" fill="#fff" stroke="#4a94f5" stroke-width="1.4" stroke-linejoin="miter"/>
<polygon points="364.00,213.25 366.25,215.40 364.00,217.55 361.75,215.40" fill="#fff" stroke="#4a94f5" stroke-width="1.4" stroke-linejoin="miter"/>
<polygon points="364.00,217.50 367.30,221.00 364.00,224.50 360.70,221.00" fill="#4a94f5" stroke="none" stroke-width="0" />
<line x1="377" y1="189.8" x2="377" y2="202.2" stroke="#4a94f5" stroke-width="2.3" />
<line x1="377" y1="217.3" x2="377" y2="221.7" stroke="#4a94f5" stroke-width="2.3" />
<rect x="373.70" y="203.30" width="6.60" height="12.90" fill="#fff" stroke="#4a94f5" stroke-width="2.2"/>
<polygon points="377.00,186.30 380.30,189.80 377.00,193.30 373.70,189.80" fill="#4a94f5" stroke="none" stroke-width="0" />
<polygon points="377.00,204.85 379.25,207.00 377.00,209.15 374.75,207.00" fill="#fff" stroke="#4a94f5" stroke-width="1.4" stroke-linejoin="miter"/>
<polygon points="377.00,209.85 379.25,212.00 377.00,214.15 374.75,212.00" fill="#fff" stroke="#4a94f5" stroke-width="1.4" stroke-linejoin="miter"/>
<polygon points="377.00,218.20 380.30,221.70 377.00,225.20 373.70,221.70" fill="#4a94f5" stroke="none" stroke-width="0" />
<polygon points="388.50,218.00 391.80,221.50 388.50,225.00 385.20,221.50" fill="#4a94f5" stroke="none" stroke-width="0" />
<polygon points="391.80,220.00 395.10,223.50 391.80,227.00 388.50,223.50" fill="#4a94f5" stroke="none" stroke-width="0" />
<polygon points="390.00,221.00 393.30,224.50 390.00,228.00 386.70,224.50" fill="#4a94f5" stroke="none" stroke-width="0" />
<line x1="438" y1="219.6" x2="438" y2="224.2" stroke="#0707f7" stroke-width="2.3" />
<rect x="434.85" y="197.75" width="6.30" height="20.60" fill="#fff" stroke="#0707f7" stroke-width="2.5"/>
<polygon points="436.00,194.50 439.30,198.00 436.00,201.50 432.70,198.00" fill="#0707f7" stroke="none" stroke-width="0" />
<polygon points="440.00,194.50 443.30,198.00 440.00,201.50 436.70,198.00" fill="#0707f7" stroke="none" stroke-width="0" />
<polygon points="437.50,201.25 439.75,203.40 437.50,205.55 435.25,203.40" fill="#fff" stroke="#0707f7" stroke-width="1.4" stroke-linejoin="miter"/>
<polygon points="436.50,207.45 438.75,209.60 436.50,211.75 434.25,209.60" fill="#fff" stroke="#0707f7" stroke-width="1.4" stroke-linejoin="miter"/>
<polygon points="439.50,207.45 441.75,209.60 439.50,211.75 437.25,209.60" fill="#fff" stroke="#0707f7" stroke-width="1.4" stroke-linejoin="miter"/>
<polygon points="438.00,211.25 440.25,213.40 438.00,215.55 435.75,213.40" fill="#fff" stroke="#0707f7" stroke-width="1.4" stroke-linejoin="miter"/>
<polygon points="438.00,220.70 441.30,224.20 438.00,227.70 434.70,224.20" fill="#0707f7" stroke="none" stroke-width="0" />
<line x1="451" y1="219.6" x2="451" y2="222.6" stroke="#0707f7" stroke-width="2.3" />
<rect x="447.90" y="147.00" width="6.20" height="71.30" fill="#fff" stroke="#0707f7" stroke-width="2.6"/>
<rect x="446.60" y="199.30" width="8.80" height="2.20" fill="#0707f7" stroke="none" stroke-width="0"/>
<polygon points="448.80,143.50 452.10,147.00 448.80,150.50 445.50,147.00" fill="#0707f7" stroke="none" stroke-width="0" />
<polygon points="453.20,143.50 456.50,147.00 453.20,150.50 449.90,147.00" fill="#0707f7" stroke="none" stroke-width="0" />
<polygon points="451.00,185.15 453.25,187.30 451.00,189.45 448.75,187.30" fill="#fff" stroke="#0707f7" stroke-width="1.4" stroke-linejoin="miter"/>
<polygon points="449.70,211.25 451.95,213.40 449.70,215.55 447.45,213.40" fill="#fff" stroke="#0707f7" stroke-width="1.4" stroke-linejoin="miter"/>
<polygon points="452.30,211.25 454.55,213.40 452.30,215.55 450.05,213.40" fill="#fff" stroke="#0707f7" stroke-width="1.4" stroke-linejoin="miter"/>
<polygon points="451.00,219.10 454.30,222.60 451.00,226.10 447.70,222.60" fill="#0707f7" stroke="none" stroke-width="0" />
<line x1="464" y1="125.1" x2="464" y2="166.6" stroke="#0707f7" stroke-width="2.3" />
<rect x="460.80" y="167.80" width="6.40" height="41.50" fill="#fff" stroke="#0707f7" stroke-width="2.4"/>
<polygon points="464.00,121.60 467.30,125.10 464.00,128.60 460.70,125.10" fill="#0707f7" stroke="none" stroke-width="0" />
<polygon points="462.20,177.45 464.45,179.60 462.20,181.75 459.95,179.60" fill="#fff" stroke="#0707f7" stroke-width="1.4" stroke-linejoin="miter"/>
<polygon points="465.80,177.45 468.05,179.60 465.80,181.75 463.55,179.60" fill="#fff" stroke="#0707f7" stroke-width="1.4" stroke-linejoin="miter"/>
<polygon points="464.00,184.95 466.25,187.10 464.00,189.25 461.75,187.10" fill="#fff" stroke="#0707f7" stroke-width="1.4" stroke-linejoin="miter"/>
<polygon points="462.20,206.00 465.50,209.50 462.20,213.00 458.90,209.50" fill="#0707f7" stroke="none" stroke-width="0" />
<polygon points="465.80,206.00 469.10,209.50 465.80,213.00 462.50,209.50" fill="#0707f7" stroke="none" stroke-width="0" />
<line x1="485.8" y1="208.6" x2="485.8" y2="227.1" stroke="#7e0c9c" stroke-width="2.3" />
<rect x="481.30" y="212.80" width="9.00" height="4.00" fill="#7e0c9c" stroke="none" stroke-width="0"/>
<polygon points="485.80,205.10 489.10,208.60 485.80,212.10 482.50,208.60" fill="#7e0c9c" stroke="none" stroke-width="0" />
<polygon points="485.80,223.60 489.10,227.10 485.80,230.60 482.50,227.10" fill="#7e0c9c" stroke="none" stroke-width="0" />
<line x1="498.8" y1="134.2" x2="498.8" y2="223" stroke="#7e0c9c" stroke-width="2.3" />
<rect x="494.30" y="176.30" width="9.00" height="4.20" fill="#7e0c9c" stroke="none" stroke-width="0"/>
<polygon points="498.80,130.70 502.10,134.20 498.80,137.70 495.50,134.20" fill="#7e0c9c" stroke="none" stroke-width="0" />
<polygon points="498.80,219.50 502.10,223.00 498.80,226.50 495.50,223.00" fill="#7e0c9c" stroke="none" stroke-width="0" />
<line x1="511.8" y1="119.2" x2="511.8" y2="201.8" stroke="#7e0c9c" stroke-width="2.3" />
<rect x="507.50" y="143.70" width="8.60" height="4.20" fill="#7e0c9c" stroke="none" stroke-width="0"/>
<polygon points="511.80,115.70 515.10,119.20 511.80,122.70 508.50,119.20" fill="#7e0c9c" stroke="none" stroke-width="0" />
<polygon points="511.80,198.30 515.10,201.80 511.80,205.30 508.50,201.80" fill="#7e0c9c" stroke="none" stroke-width="0" />
<line x1="524.8" y1="150.2" x2="524.8" y2="164.4" stroke="#7e0c9c" stroke-width="2.3" />
<line x1="524.8" y1="201.3" x2="524.8" y2="216.7" stroke="#7e0c9c" stroke-width="2.3" />
<rect x="521.40" y="165.40" width="6.80" height="34.90" fill="#fff" stroke="#7e0c9c" stroke-width="2.0"/>
<polygon points="524.80,146.70 528.10,150.20 524.80,153.70 521.50,150.20" fill="#7e0c9c" stroke="none" stroke-width="0" />
<polygon points="524.80,166.25 527.05,168.40 524.80,170.55 522.55,168.40" fill="#fff" stroke="#7e0c9c" stroke-width="1.4" stroke-linejoin="miter"/>
<polygon points="524.80,174.85 527.05,177.00 524.80,179.15 522.55,177.00" fill="#fff" stroke="#7e0c9c" stroke-width="1.4" stroke-linejoin="miter"/>
<polygon points="524.80,181.35 527.05,183.50 524.80,185.65 522.55,183.50" fill="#fff" stroke="#7e0c9c" stroke-width="1.4" stroke-linejoin="miter"/>
<polygon points="524.80,188.35 527.05,190.50 524.80,192.65 522.55,190.50" fill="#fff" stroke="#7e0c9c" stroke-width="1.4" stroke-linejoin="miter"/>
<polygon points="524.80,194.85 527.05,197.00 524.80,199.15 522.55,197.00" fill="#fff" stroke="#7e0c9c" stroke-width="1.4" stroke-linejoin="miter"/>
<polygon points="524.80,213.20 528.10,216.70 524.80,220.20 521.50,216.70" fill="#7e0c9c" stroke="none" stroke-width="0" />
<line x1="537.8" y1="43.5" x2="537.8" y2="113.1" stroke="#7e0c9c" stroke-width="2.3" />
<line x1="537.8" y1="179.2" x2="537.8" y2="216.7" stroke="#7e0c9c" stroke-width="2.3" />
<rect x="534.40" y="114.10" width="6.80" height="64.10" fill="#fff" stroke="#7e0c9c" stroke-width="2.0"/>
<rect x="533.40" y="151.30" width="8.80" height="2.20" fill="#7e0c9c" stroke="none" stroke-width="0"/>
<polygon points="537.80,40.00 541.10,43.50 537.80,47.00 534.50,43.50" fill="#7e0c9c" stroke="none" stroke-width="0" />
<polygon points="537.80,133.45 540.05,135.60 537.80,137.75 535.55,135.60" fill="#fff" stroke="#7e0c9c" stroke-width="1.4" stroke-linejoin="miter"/>
<polygon points="537.80,141.15 540.05,143.30 537.80,145.45 535.55,143.30" fill="#fff" stroke="#7e0c9c" stroke-width="1.4" stroke-linejoin="miter"/>
<polygon points="535.60,162.15 537.85,164.30 535.60,166.45 533.35,164.30" fill="#fff" stroke="#7e0c9c" stroke-width="1.4" stroke-linejoin="miter"/>
<polygon points="539.50,165.85 541.75,168.00 539.50,170.15 537.25,168.00" fill="#fff" stroke="#7e0c9c" stroke-width="1.4" stroke-linejoin="miter"/>
<polygon points="537.80,213.20 541.10,216.70 537.80,220.20 534.50,216.70" fill="#7e0c9c" stroke="none" stroke-width="0" /></svg>
</body></html>
